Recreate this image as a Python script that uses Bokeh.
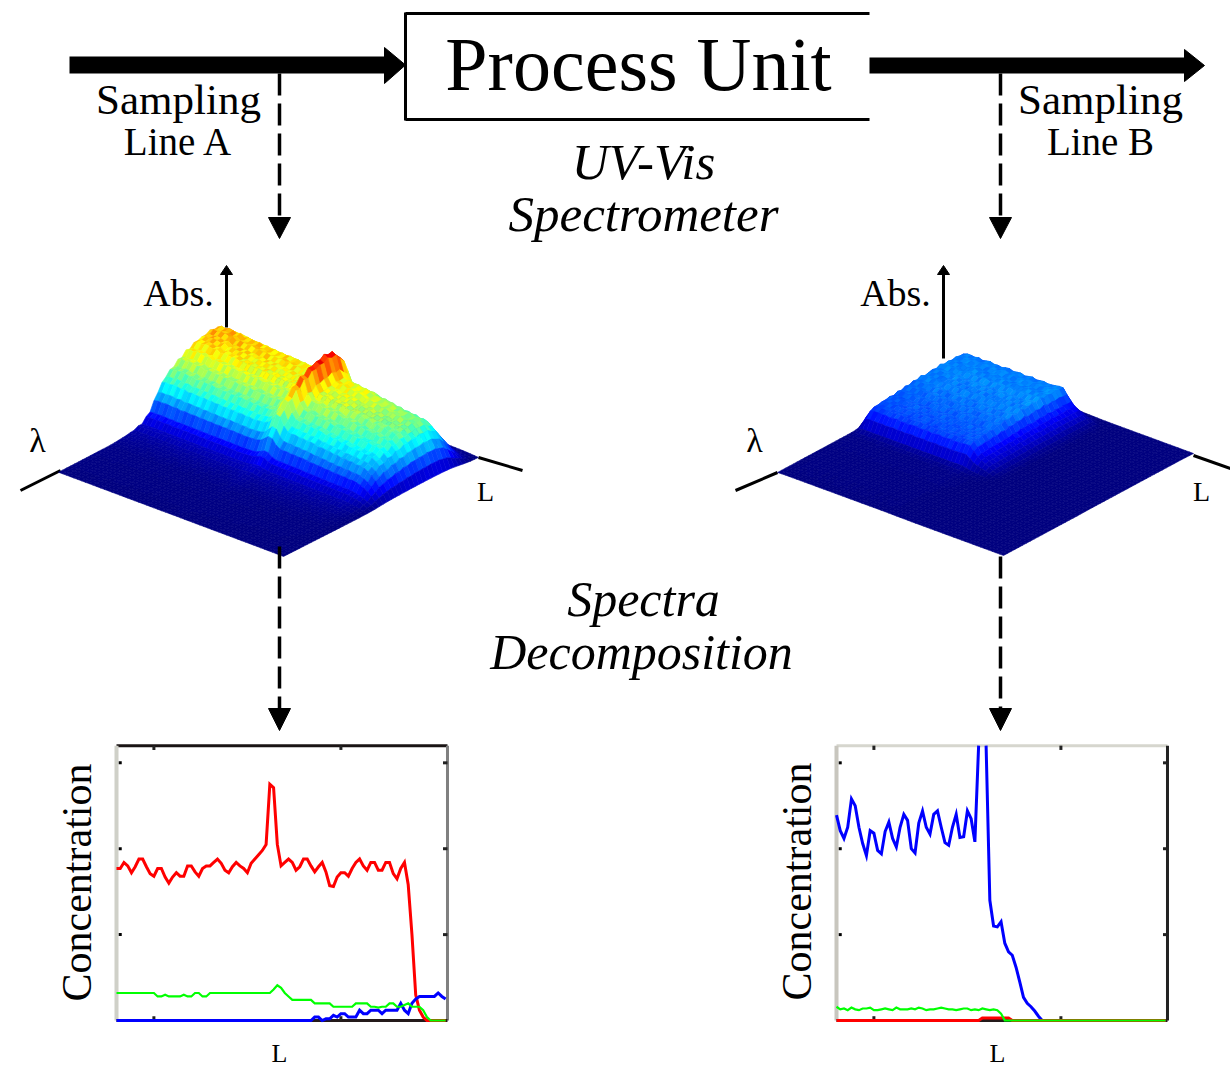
import numpy as np
from bokeh.plotting import figure
from bokeh.models import Range1d, ColumnDataSource, LinearColorMapper
from bokeh.core.properties import value
from bokeh.embed import file_html
from bokeh.resources import INLINE

# ---------- concentration traces, sample index 0..88 ----------
red_a = [1.77,1.77,1.84,1.80,1.72,1.79,1.88,1.88,1.79,1.71,1.68,1.77,1.77,1.67,1.60,1.67,1.72,1.68,1.68,1.80,
         1.80,1.73,1.68,1.77,1.80,1.80,1.84,1.88,1.83,1.75,1.72,1.79,1.84,1.80,1.77,1.72,1.83,1.88,1.93,1.98,
         2.05,2.75,2.71,2.05,1.80,1.84,1.88,1.84,1.75,1.79,1.88,1.88,1.80,1.73,1.79,1.84,1.73,1.57,1.56,1.67,
         1.72,1.72,1.68,1.77,1.84,1.88,1.80,1.75,1.84,1.84,1.75,1.75,1.84,1.84,1.71,1.65,1.77,1.84,1.58,1.00,
         0.30,0.12,0.04,0.0,0.0,0.0,0.0,0.0,0.0]
green_a = [.32,.32,.32,.32,.32,.32,.32,.32,.32,.32,.32,.28,.28,.30,.28,.28,.28,.28,.30,.28,
           .28,.32,.32,.28,.28,.32,.32,.32,.32,.32,.32,.32,.32,.32,.32,.32,.32,.32,.32,.32,
           .32,.32,.36,.41,.38,.32,.28,.24,.24,.24,.24,.24,.24,.20,.20,.20,.20,.20,.16,.16,
           .16,.16,.16,.16,.20,.20,.20,.20,.16,.16,.15,.16,.16,.20,.20,.16,.16,.18,.20,.16,
           .16,.16,.12,.04,0,0,0,0,0]
blue_a = [0]*53 + [.04,.04,0,.02,.02,.06,.04,.08,.08,.04,.04,.04,.12,.08,.08,.12,.12,.12,.08,.12,.12,
                   .12,.12,.20,.12,.08,.20,.25,.28,.28,.28,.28,.28,.32,.28,.25]
blue_b = [2.39,2.21,2.12,2.25,2.58,2.50,2.25,2.06,1.92,2.21,2.18,1.98,1.94,2.20,2.31,2.12,2.02,2.25,2.40,2.33,
          2.00,1.95,2.30,2.44,2.25,2.17,2.40,2.44,2.25,2.07,2.04,2.25,2.40,2.13,2.14,2.44,2.35,2.08,3.2,None,
          3.2,1.40,1.10,1.09,1.15,0.90,0.80,0.76,0.62,0.45,0.27,0.20,0.16,0.11,0.05] + [0.0]*34
green_b = [.16,.13,.14,.12,.15,.13,.12,.14,.14,.15,.12,.12,.13,.14,.13,.12,.15,.13,.13,.13,
           .14,.13,.15,.14,.12,.13,.13,.14,.15,.14,.13,.13,.12,.13,.14,.14,.12,.13,.12,.14,
           .13,.12,.13,.12,.08] + [0.0]*44
red_b = [0.0]*39 + [.03,.03,.03,.03,.03,.03,.03,.03] + [0.0]*42
x_ticks = [10, 60]
y_ticks = [1, 2, 3]
x_top = 88.5
y_top = 3.2

# ---------- absorbance surfaces: along L and along lambda ----------
l_profile_a = [.92,.95,.94,.96,.95,.93,.95,.91,.93,.92,.91,.92,.90,.91,.89,.90,.88,.89,.88,.89,
               .87,.88,.86,.87,.85,.86,.87,.88,.93,1.05,1.18,1.15,.96,.86,.84,.85,.82,.83,.81,.82,
               .80,.77,.78,.76,.76,.73,.74,.71,.72,.70,.71,.68,.69,.67,.62,.56,.46,.34,.20,.05]
w_profile_a = [.02,.04,.08,.18,.30,.42,.54,.65,.69,.74,.73,.75,.72,.72,.70,.70,.65,.66,.60,.60,
               .54,.53,.47,.43,.34,.27,.16,.13,.07,.07,.045,.04,.03,.025,.02,.015,.012,.01,.01,.01,
               .008,.008,.006,.006,.005,.005,.004,.004,.003,.003]
l_profile_b = [.1,.6,.95,1.0,1.0,.98,1.02,.97,1.0,1.03,.98,1.0,.97,1.01,1.03,.98,1.0,1.02,.97,1.0,
               1.03,.98,1.0,1.02,.99,1.0,1.02,1.05,1.05,.85,.62,.5,.4,.3,.2,.1,.05,.02,.01,.01,
               .01,.01,.01,.01,.01,.01,.01,.01,.01,.01,.01,.01,.01,.01,.01,.01,.01,.01,.01,.01]
w_profile_b = [.01,.03,.16,.25,.25,.26,.25,.26,.25,.27,.25,.26,.25,.24,.26,.24,.25,.23,.24,.22,
               .23,.21,.22,.21,.21,.20,.20,.18,.12,.04,.02,.012,.01,.01,.01,.008,.008,.006,.006,.006,
               .005,.005,.005,.005,.004,.004,.004,.004,.003,.003]
# small hand-set mottling of the scanned surfaces (relative deviations)
mottle = [[ .05,-.04, .02,-.06, .03, .06,-.02],
          [-.03, .06,-.05, .02,-.06, .01, .04],
          [ .02,-.02, .07,-.04, .05,-.05,-.01],
          [-.06, .03,-.01, .05,-.03, .04,-.04],
          [ .04,-.05, .03,-.02, .06,-.06, .02]]

W, H = 1230, 1069
p = figure(width=W, height=H, x_range=Range1d(0, 1230), y_range=Range1d(1069, 0),
           x_axis_type=None, y_axis_type=None, toolbar_location=None, output_backend="svg",
           min_border=0, outline_line_color=None, background_fill_color="white", border_fill_color="white")
p.grid.visible = False

def jet(v):
    r = np.clip(1.5 - abs(4*v - 3), 0, 1)
    g = np.clip(1.5 - abs(4*v - 2), 0, 1)
    b = np.clip(1.5 - abs(4*v - 1), 0, 1)
    return "#%02x%02x%02x" % (int(r*255), int(g*255), int(b*255))

mapper = LinearColorMapper(palette=[jet(k/255) for k in range(256)], low=0, high=1)

def surface(lp, wp, back, lvec, tvec, z_px):
    P = np.array(lp); S = np.array(wp)
    Z = np.outer(P, S)
    Ls = np.linspace(0, 1, len(P)); Ts = np.linspace(0, 1, len(S))
    xs, ys, vs = [], [], []
    for i in range(len(P) - 1):
        for j in range(len(S) - 1):
            qx, qy = [], []
            for a, b in ((i, j), (i+1, j), (i+1, j+1), (i, j+1)):
                qx.append(back[0] + Ls[a]*lvec[0] + Ts[b]*tvec[0])
                qy.append(back[1] + Ls[a]*lvec[1] + Ts[b]*tvec[1] - Z[a, b]*z_px)
            xs.append(qx); ys.append(qy)
            m = 1 + mottle[j % 5][i % 7]
            vs.append(float(m*(Z[i, j] + Z[i+1, j] + Z[i, j+1] + Z[i+1, j+1]) / 4))
    src = ColumnDataSource(dict(xs=xs, ys=ys, v=vs))
    cm = {"field": "v", "transform": mapper}
    p.patches("xs", "ys", source=src, fill_color=cm, line_color=cm, line_width=0.6)

def lbl(x, y, txt, size, style="normal", angle=0):
    p.text(x=[x], y=[y], text=[txt], text_font=value("Liberation Serif"), text_font_size=value(size),
           text_font_style=style, text_align="center", text_baseline="middle", text_color="black", angle=angle)

# ---------- top flow ----------
p.segment([69], [64.5], [386], [64.5], line_color="black", line_width=17)
p.patch([384, 405, 384], [47, 64.5, 83], color="black")
p.segment([869], [65], [1186], [65], line_color="black", line_width=16)
p.patch([1184, 1204, 1184], [49, 65, 81], color="black")
p.segment([405, 405, 405], [13, 119, 12], [869, 869, 405], [13, 119, 120], line_color="black", line_width=3)

# ---------- sampling lines ----------
for x0 in (279, 1000):
    p.line([x0, x0], [73, 220], line_color="black", line_width=3.5, line_dash="22 8")
    p.patch([x0-11, x0+11, x0], [217, 217, 238], color="black")
    p.patch([x0-11, x0+11, x0], [708, 708, 730], color="black")

# ---------- surfaces ----------
p.segment([226, 943, 20, 478, 735, 1193], [327, 358, 490, 457, 490, 455],
          [226, 943, 60, 522, 777, 1230], [272, 272, 470, 470, 472, 468], line_color="black", line_width=3)
p.patch([220, 232, 226], [274, 274, 265], color="black")
p.patch([937, 949, 943], [274, 274, 265], color="black")
surface(l_profile_a, w_profile_a, (253, 373), (225, 84), (-195, 99), 95.0)
surface(l_profile_b, w_profile_b, (967, 370), (226, 83), (-190, 102), 108.0)
p.line([279, 279], [546, 708], line_color="black", line_width=3.5, line_dash="22 8")
p.line([1000, 1000], [556, 708], line_color="black", line_width=3.5, line_dash="22 8")

# ---------- concentration panels on their own scales ----------
PX_PER_I = 3.74
PX_PER_C = 85.89
def panel(name, left, bottom=1020):
    xn, yn = name + "x", name + "y"
    p.extra_x_ranges[xn] = Range1d((0 - left)/PX_PER_I, (1230 - left)/PX_PER_I)
    p.extra_y_ranges[yn] = Range1d((bottom - 1069)/PX_PER_C, (bottom - 0)/PX_PER_C)
    return dict(x_range_name=xn, y_range_name=yn)

def frame(r, top_c, left_c, right_c, bottom_c):
    p.segment([0], [y_top], [x_top], [y_top], line_color=top_c, line_width=3, **r)
    p.segment([0], [0], [0], [y_top], line_color=left_c, line_width=4, **r)
    p.segment([x_top], [0], [x_top], [y_top], line_color=right_c, line_width=3, **r)
    p.segment([0], [0], [x_top], [0], line_color=bottom_c, line_width=3, **r)
    p.segment(x_ticks, [y_top]*2, x_ticks, [y_top - .05]*2, line_color="#222222", line_width=3, **r)
    p.segment(x_ticks, [.0]*2, x_ticks, [.05]*2, line_color="#222222", line_width=3, **r)
    p.segment([0.6]*3, y_ticks, [1.4]*3, y_ticks, line_color="black", line_width=3, **r)
    p.segment([x_top - 1.2]*3, y_ticks, [x_top]*3, y_ticks, line_color="#222222", line_width=3, **r)

def trace(vals, color, r, lw=3):
    xs = list(range(len(vals)))
    ys = [float("nan") if v is None else v for v in vals]
    p.line(xs, ys, line_color=color, line_width=lw, line_join="miter", **r)

ra = panel("a", 116)
frame(ra, "#1a1414", "#cfd0c8", "#808080", "#241a1a")
trace(red_a, "#ff0000", ra)
trace(blue_a, "#0000ff", ra)
trace(green_a, "#00ff00", ra, 2.2)

rb = panel("b", 836)
frame(rb, "#d6d6ce", "#c8c6be", "#222222", "#241a1a")
trace(blue_b, "#0000ff", rb)
trace(red_b, "#ff0000", rb)
trace(green_b, "#00ff00", rb, 2.2)

# ---------- texts ----------
lbl(638, 63, "Process Unit", "76px")
lbl(178, 99, "Sampling", "43px")
lbl(178, 141, "Line A", "39px")
lbl(1100, 99, "Sampling", "43px")
lbl(1100, 141, "Line B", "39px")
lbl(643, 161, "UV-Vis", "51px", "italic")
lbl(643, 213, "Spectrometer", "51px", "italic")
lbl(643, 598, "Spectra", "50px", "italic")
lbl(641, 651, "Decomposition", "50px", "italic")
lbl(178, 292, "Abs.", "38px")
lbl(895, 292, "Abs.", "38px")
lbl(37, 440, "λ", "34px")
lbl(754, 440, "λ", "34px")
lbl(485, 491, "L", "28px")
lbl(1201, 491, "L", "28px")
lbl(279, 1053, "L", "26px")
lbl(997, 1053, "L", "26px")
lbl(76, 882, "Concentration", "42px", angle=np.pi/2)
lbl(796, 881, "Concentration", "42px", angle=np.pi/2)

open("out.html", "w").write(file_html(p, INLINE))
